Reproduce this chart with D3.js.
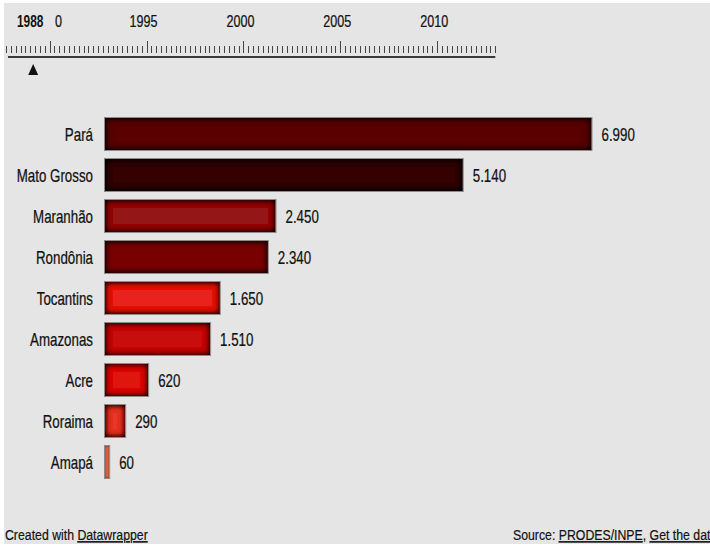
<!DOCTYPE html>
<html>
<head>
<meta charset="utf-8">
<script src="https://cdn.jsdelivr.net/npm/d3@7"></script>
<style>
  html, body { margin: 0; padding: 0; background: #fff; }
  svg { display: block; }
</style>
</head>
<body>
<div id="chart"></div>
<script>
// deforestation by state, 1988
const states = ['Pará', 'Mato Grosso', 'Maranhão', 'Rondônia', 'Tocantins', 'Amazonas', 'Acre', 'Roraima', 'Amapá'];
const values = [6990, 5140, 2450, 2340, 1650, 1510, 620, 290, 60];
const barColors = ['#5a0000', '#360000', '#951212', '#780202', '#e8241b', '#c80b0b', '#df1511', '#e8382c', '#e2643e'];
const yearTicks = [1995, 2000, 2005, 2010];
const currentYear = '1988';
const handleYear = 1989.15; // slider handle position

const width = 710, height = 547;
const sx = 0.74; // the reference text is narrow, squeeze it horizontally

const fmt = d3.formatLocale({ decimal: ',', thousands: '.', grouping: [3], currency: ['R$', ''] }).format(',d');

const svg = d3.select('#chart').append('svg')
  .attr('width', width)
  .attr('height', height);

// inner shadow for the bars
const defs = svg.append('defs');
function innerShadow(id, blur, layers) {
  const f = defs.append('filter')
    .attr('id', id)
    .attr('filterUnits', 'userSpaceOnUse')
    .attr('x', 0).attr('y', 0).attr('width', width).attr('height', height);
  f.append('feFlood').attr('flood-color', '#000').attr('result', 'flood');
  f.append('feComposite').attr('in', 'flood').attr('in2', 'SourceAlpha').attr('operator', 'out').attr('result', 'inv');
  f.append('feGaussianBlur').attr('in', 'inv').attr('stdDeviation', blur).attr('result', 'blur');
  f.append('feComposite').attr('in', 'blur').attr('in2', 'SourceAlpha').attr('operator', 'in').attr('result', 'shadow');
  const merge = f.append('feMerge');
  merge.append('feMergeNode').attr('in', 'SourceGraphic');
  for (let k = 0; k < layers; k++) merge.append('feMergeNode').attr('in', 'shadow');
}
innerShadow('inner', 3.2, 3);
innerShadow('innerThin', 0.8, 1);

// panel background
svg.append('rect')
  .attr('x', 4).attr('y', 3)
  .attr('width', width - 4).attr('height', height - 6)
  .attr('fill', '#e5e5e5');

function label(g, x, y, txt, opts) {
  opts = opts || {};
  return g.append('text')
    .attr('transform', `translate(${x},${y}) scale(${opts.sx || sx},1)`)
    .attr('text-anchor', opts.anchor || 'start')
    .style('font-family', '"Liberation Sans", Arial, sans-serif')
    .style('font-size', (opts.size || 18) + 'px')
    .style('font-weight', opts.bold ? 'bold' : 'normal')
    .style('fill', opts.fill || '#111')
    .style('stroke', opts.bold ? 'none' : '#111')
    .style('stroke-width', 0.25)
    .text(txt);
}

// ---- year slider ----
const t = d3.scaleLinear().domain([1987.5, 2013]).range([1.2, 495.3]);
const slider = svg.append('g');

const ticks = d3.range(1987.75, 2013.01, 0.25);
slider.selectAll('line.tick')
  .data(ticks)
  .enter()
  .append('line')
  .attr('class', 'tick')
  .attr('x1', d => Math.round(t(d)) + 0.5)
  .attr('x2', d => Math.round(t(d)) + 0.5)
  .attr('y1', d => (Math.abs(d % 5) < 1e-6 ? 41 : 46))
  .attr('y2', 53)
  .attr('stroke', '#444')
  .attr('stroke-width', 1);

slider.append('line')
  .attr('x1', t(1987.85)).attr('x2', t(2013))
  .attr('y1', 57).attr('y2', 57)
  .attr('stroke', '#3a3a3a')
  .attr('stroke-width', 2.2);

yearTicks.forEach(y => {
  label(slider, t(y) - 3, 27, String(y), { anchor: 'middle', size: 17 });
});
label(slider, 17, 27, currentYear, { size: 17, bold: true, sx: 0.7 });
label(slider, 55, 27, '0', { size: 17 });

const hx = t(handleYear);
slider.append('path')
  .attr('d', `M${hx},64 L${hx + 5},75 L${hx - 5},75 Z`)
  .attr('fill', '#111');

// ---- bars ----
const x = d3.scaleLinear()
  .domain([0, d3.max(values)])
  .range([105, 591.5]);

const y = d3.scaleBand()
  .domain(states)
  .range([113.5, 482.5])
  .paddingInner(0.22)
  .paddingOuter(0.11);

const rows = svg.append('g')
  .selectAll('g')
  .data(states)
  .enter()
  .append('g');

rows.append('rect')
  .attr('x', x(0))
  .attr('y', d => y(d))
  .attr('width', (d, i) => x(values[i]) - x(0))
  .attr('height', y.bandwidth())
  .attr('fill', (d, i) => barColors[i])
  .attr('filter', (d, i) => (x(values[i]) - x(0) < 12 ? 'url(#innerThin)' : 'url(#inner)'));

rows.append('rect')
  .attr('x', x(0) - 0.5)
  .attr('y', d => y(d) - 0.5)
  .attr('width', (d, i) => x(values[i]) - x(0) + 1)
  .attr('height', y.bandwidth() + 1)
  .attr('fill', 'none')
  .attr('stroke', '#8c8c8c')
  .attr('stroke-width', 1);

rows.each(function (d, i) {
  const g = d3.select(this);
  const cy = y(d) + y.bandwidth() / 2 + 6.5;
  label(g, 93, cy, d, { anchor: 'end' });
  label(g, x(values[i]) + 10, cy, fmt(values[i]));
});

// ---- footer ----
const foot = svg.append('g')
  .style('font-family', '"Liberation Sans", Arial, sans-serif')
  .style('font-size', '15px')
  .style('fill', '#111')
  .style('stroke', '#111')
  .style('stroke-width', 0.2);

foot.append('text')
  .attr('transform', 'translate(5,540) scale(0.82,1)')
  .html('Created with <tspan text-decoration="underline">Datawrapper</tspan>');

// the reference cuts this line at the right edge
foot.append('text')
  .attr('transform', 'translate(513,540) scale(0.82,1)')
  .html('Source: <tspan text-decoration="underline">PRODES/INPE</tspan>, <tspan text-decoration="underline">Get the data</tspan>');
</script>
</body>
</html>
